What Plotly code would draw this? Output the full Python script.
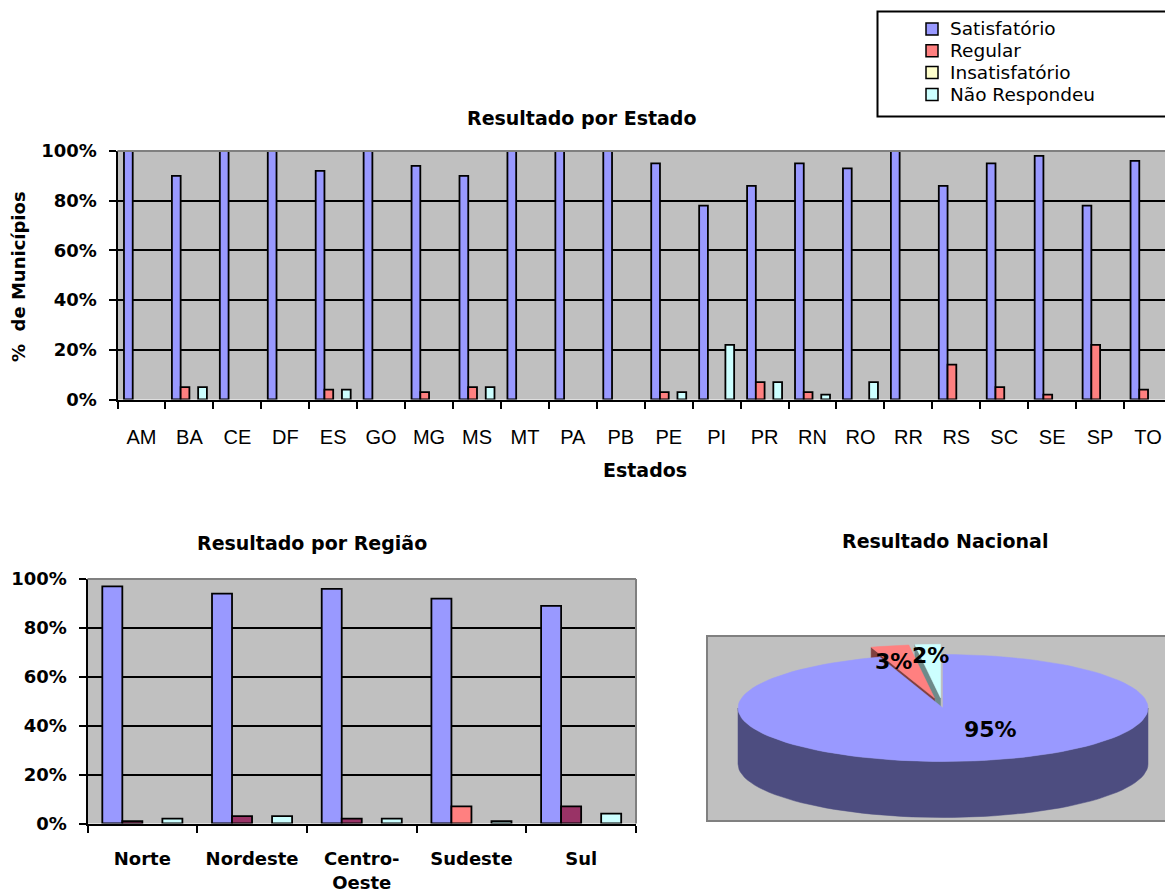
import math
import plotly.graph_objects as go

# ---------------- data ----------------
estados = ["AM", "BA", "CE", "DF", "ES", "GO", "MG", "MS", "MT", "PA", "PB",
           "PE", "PI", "PR", "RN", "RO", "RR", "RS", "SC", "SE", "SP", "TO"]
est_satisfatorio = [100, 90, 100, 100, 92, 100, 94, 90, 100, 100, 100,
                    95, 78, 86, 95, 93, 100, 86, 95, 98, 78, 96]
est_regular = [0, 5, 0, 0, 4, 0, 3, 5, 0, 0, 0,
               3, 0, 7, 3, 0, 0, 14, 5, 2, 22, 4]
est_insatisfatorio = [0, 0, 0, 0, 0, 0, 0, 0, 0, 0, 0,
                      0, 0, 0, 0, 0, 0, 0, 0, 0, 0, 0]
est_nao_respondeu = [0, 5, 0, 0, 4, 0, 0, 5, 0, 0, 0,
                     3, 22, 7, 2, 7, 0, 0, 0, 0, 0, 0]

regioes = ["Norte", "Nordeste", "Centro-<br>Oeste", "Sudeste", "Sul"]
reg_satisfatorio = [97, 94, 96, 92, 89]
reg_regular = [1, 3, 2, 7, 7]
reg_insatisfatorio = [0, 0, 0, 0, 0]
reg_nao_respondeu = [2, 3, 2, 1, 4]

nacional = [95, 3, 0, 2]

series = ["Satisfatório", "Regular", "Insatisfatório", "Não Respondeu"]
y_ticks = [0, 20, 40, 60, 80, 100]

# ---------------- style ----------------
colors = ["#9999FF", "#FF8080", "#FFFFCC", "#CCFFFF"]
side_colors = ["#4D4D80", "#804040", "#80806A", "#6E8A8A"]
regiao_regular_colors = ["#993366", "#993366", "#993366", "#FF8080", "#993366"]
pie_explode = [0.0, 0.19, 0.19, 0.19]

# the page body keeps its default 8px margin, so the figure is laid out
# in page pixels minus that offset
OFF = 8
W, H = 1173 - OFF, 894 - OFF
BOLD = "DejaVu Sans"
REG = "Liberation Sans"


def fx(p):
    return (p - OFF) / W


def fy(p):
    return 1 - (p - OFF) / H


def nz(vals):
    return [v if v else None for v in vals]


fig = go.Figure()

# ---------------- chart 1 : por Estado ----------------
for name, vals, col in zip(series,
                           [est_satisfatorio, est_regular, est_insatisfatorio, est_nao_respondeu],
                           colors):
    fig.add_trace(go.Bar(x=estados, y=nz(vals), name=name, xaxis="x", yaxis="y",
                         marker=dict(color=col, line=dict(color="black", width=1.8)),
                         showlegend=False))

# ---------------- chart 2 : por Região ----------------
for i, (name, vals) in enumerate(zip(series,
                                     [reg_satisfatorio, reg_regular, reg_insatisfatorio, reg_nao_respondeu])):
    col = regiao_regular_colors if i == 1 else colors[i]
    fig.add_trace(go.Bar(x=regioes, y=nz(vals), name=name, xaxis="x2", yaxis="y2",
                         marker=dict(color=col, line=dict(color="black", width=1.8)),
                         showlegend=False))

# ---------------- chart 3 : Nacional (3-D style pie from data) ----------------
BOX_W, BOX_H = 460, 183
cx, cy, rx, ry, depth = 235, 112, 205, 53.5, 56
total = sum(nacional)
starts, ends = [], []
acc = 0.0
for v in nacional:
    starts.append(acc / total * 360)
    acc += v
    ends.append(acc / total * 360)


def proj(theta, r, off, z=0.0):
    mid_u, mid_v = off
    t = math.radians(theta)
    u = r * math.sin(t) + mid_u
    v = r * math.cos(t) + mid_v
    return cx + rx * u, cy + ry * v + z


def offset(i):
    m = math.radians((starts[i] + ends[i]) / 2)
    e = pie_explode[i]
    return e * math.sin(m), e * math.cos(m)


def arc(a0, a1, off, z=0.0, n=120):
    pts = []
    steps = max(2, int(abs(a1 - a0) / 360 * n) + 2)
    for k in range(steps + 1):
        th = a0 + (a1 - a0) * k / steps
        pts.append(proj(th, 1, off, z))
    return pts


def poly(pts, color):
    xs = [p[0] for p in pts] + [pts[0][0]]
    ys = [p[1] for p in pts] + [pts[0][1]]
    fig.add_trace(go.Scatter(x=xs, y=ys, mode="lines", fill="toself",
                             fillcolor=color, line=dict(color=color, width=0.5),
                             hoverinfo="skip", showlegend=False,
                             xaxis="x3", yaxis="y3"))


# small exploded slices (drawn back to front)
for i in [3, 1]:
    if nacional[i] <= 0:
        continue
    off = offset(i)
    c_top = proj(0, 0, off)
    c_bot = proj(0, 0, off, -depth)
    face = [c_top, proj(starts[i], 1, off), proj(starts[i], 1, off, -depth), c_bot]
    poly(face, side_colors[i])
    top = [c_top] + arc(starts[i], ends[i], off)
    poly(top, colors[i])

# main slice: front wall + top
off0 = offset(0)
wall = arc(90, 270, off0) + list(reversed(arc(90, 270, off0, -depth)))
poly(wall, side_colors[0])
poly([proj(0, 0, off0)] + arc(starts[0], ends[0], off0), colors[0])

label_r = [0.5, 0.8, 0.8, 0.8]
label_shift = [(31, 5), (-5, -5), (24, 8), (0, 0)]
for i, v in enumerate(nacional):
    if v <= 0:
        continue
    m = (starts[i] + ends[i]) / 2
    lx, ly = proj(m, label_r[i], offset(i))
    if i == 0:
        lx, ly = proj(m, label_r[i], (0, 0))
    fig.add_annotation(x=lx, y=ly, xref="x3", yref="y3", text=f"{v}%",
                       showarrow=False, xshift=label_shift[i][0], yshift=label_shift[i][1],
                       font=dict(family=BOLD, size=22, color="black", weight="bold"))

# ---------------- axes ----------------
yax = dict(range=[0, 100], tickmode="array", tickvals=y_ticks,
           ticktext=[f"{v}%" for v in y_ticks], showgrid=True,
           gridcolor="black", gridwidth=2, showline=True, linecolor="black",
           linewidth=2, ticks="outside", ticklen=7, tickwidth=2, tickcolor="black",
           zeroline=False, fixedrange=True, ticklabelstandoff=8, automargin=False,
           tickfont=dict(family=BOLD, size=18, color="black", weight="bold"))
xax = dict(type="category", tickson="boundaries", ticks="outside", ticklen=7,
           tickwidth=2, tickcolor="black", showline=True, linecolor="black",
           linewidth=2, showgrid=False, zeroline=False, fixedrange=True, automargin=False)

fig.update_layout(
    width=W, height=H, margin=dict(l=0, r=0, t=0, b=0, autoexpand=False),
    paper_bgcolor="white", plot_bgcolor="#C0C0C0",
    barmode="group", bargap=0.27, bargroupgap=0, showlegend=False,
    xaxis=dict(xax, domain=[fx(117.5), fx(1172)], anchor="y", ticklabelstandoff=18,
               tickfont=dict(family=REG, size=20, color="black")),
    yaxis=dict(yax, domain=[fy(399.5), fy(151)], anchor="x"),
    xaxis2=dict(xax, domain=[fx(87.5), fx(636)], anchor="y2", ticklabelstandoff=18,
                tickfont=dict(family=BOLD, size=18, color="black", weight="bold")),
    yaxis2=dict(yax, domain=[fy(823.5), fy(579)], anchor="x2"),
    xaxis3=dict(domain=[fx(708), fx(1168)], range=[0, BOX_W], anchor="y3",
                showgrid=False, zeroline=False, showticklabels=False, ticks="",
                showline=True, mirror=True, linecolor="#808080", linewidth=2,
                fixedrange=True, automargin=False),
    yaxis3=dict(domain=[fy(820), fy(637)], range=[0, BOX_H], anchor="x3",
                showgrid=False, zeroline=False, showticklabels=False, ticks="",
                showline=True, mirror=True, linecolor="#808080", linewidth=2,
                fixedrange=True, automargin=False),
)

# gray top/right borders of the bar plot areas
for xa, ya in [("x", "y"), ("x2", "y2")]:
    fig.add_shape(type="line", xref=f"{xa} domain", yref=f"{ya} domain",
                  x0=0, x1=1, y0=1, y1=1, line=dict(color="#808080", width=2), layer="above")
    fig.add_shape(type="line", xref=f"{xa} domain", yref=f"{ya} domain",
                  x0=1, x1=1, y0=0, y1=1, line=dict(color="#808080", width=2), layer="above")

# ---------------- titles ----------------
def title(text, x, y, size=19, angle=0):
    fig.add_annotation(x=fx(x), y=fy(y), xref="paper", yref="paper", text=text,
                       showarrow=False, xanchor="center", yanchor="middle", textangle=angle,
                       font=dict(family=BOLD, size=size, color="black", weight="bold"))


title("Resultado por Estado", 582, 118)
title("Estados", 645, 470)
title("%  de Municípios", 18, 277, size=18, angle=-90)
title("Resultado por Região", 312, 543)
title("Resultado Nacional", 945, 541)

# ---------------- legend ----------------
fig.add_shape(type="rect", xref="paper", yref="paper",
              x0=fx(877.5), x1=fx(1170.5), y0=fy(116.5), y1=fy(11.5),
              line=dict(color="black", width=2), fillcolor="white", layer="above")
leg_y0, leg_dy = 29, 21.8
for i, (name, col) in enumerate(zip(series, colors)):
    yc = leg_y0 + i * leg_dy
    fig.add_shape(type="rect", xref="paper", yref="paper",
                  x0=fx(926), x1=fx(938), y0=fy(yc + 6), y1=fy(yc - 6),
                  line=dict(color="black", width=1.5), fillcolor=col, layer="above")
    fig.add_annotation(x=fx(948), y=fy(yc), xref="paper", yref="paper", text=name,
                       showarrow=False, xanchor="left", yanchor="middle",
                       font=dict(family="DejaVu Sans", size=18.5, color="black"))

fig.write_html("out.html")
